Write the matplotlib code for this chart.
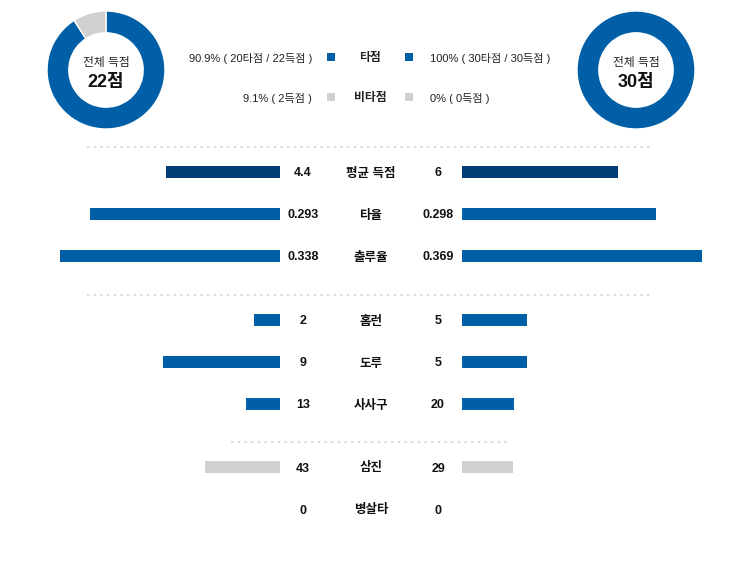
import numpy as np
import matplotlib.pyplot as plt

plt.rcParams['font.family'] = ['Liberation Sans', 'Noto Sans CJK KR']

# 도넛 (타점 / 비타점)
left_runs = [20, 2]
right_runs = [30, 0]
left_total = 22
right_total = 30
legend_left = ["90.9% ( 20타점 / 22득점 )", "9.1% ( 2득점 )"]
legend_right = ["100% ( 30타점 / 30득점 )", "0% ( 0득점 )"]
legend_names = ["타점", "비타점"]

# 비교 항목
categories = ["평균 득점", "타율", "출루율", "홈런", "도루", "사사구", "삼진", "병살타"]
left_vals = [4.4, 0.293, 0.338, 2, 9, 13, 43, 0]
right_vals = [6, 0.298, 0.369, 5, 5, 20, 29, 0]
left_labels = ["4.4", "0.293", "0.338", "2", "9", "13", "43", "0"]
right_labels = ["6", "0.298", "0.369", "5", "5", "20", "29", "0"]

BLUE = "#005fa6"
NAVY = "#003d73"
GRAY = "#d0d0d0"

# 행 위치 / 막대 스케일(px 단위) / 색
row_y = [172, 214, 256, 320, 362, 404, 467, 509]
row_scale = [26, 650, 650, 13, 13, 2.6, 1.75, 1.75]
row_color = [NAVY, BLUE, BLUE, BLUE, BLUE, BLUE, GRAY, GRAY]

W, H = 744, 562
fig = plt.figure(figsize=(W / 100, H / 100), dpi=100)
ax = fig.add_axes([0, 0, 1, 1])
ax.set_xlim(0, W)
ax.set_ylim(H, 0)
ax.axis("off")


def donut(cx, cy, r, vals, total):
    a = fig.add_axes([(cx - r) / W, (H - cy - r) / H, 2 * r / W, 2 * r / H])
    wedges, _ = a.pie(vals, colors=[BLUE, GRAY], startangle=90, counterclock=False,
                      radius=1, wedgeprops=dict(width=0.37, edgecolor="white", linewidth=1))
    for w, v in zip(wedges, vals):
        if v == 0:
            w.set_linewidth(0)
    a.set_xlim(-1, 1)
    a.set_ylim(-1, 1)
    a.axis("off")
    ax.text(cx, cy - 7, "전체 득점", ha="center", va="center", fontsize=8.5, color="#222222")
    ax.text(cx, cy + 12, f"{total}점", ha="center", va="center", fontsize=13,
            fontweight="bold", color="#111111")


donut(106, 70, 59, left_runs, left_total)
donut(636, 70, 59, right_runs, right_total)

# 범례
for i, ly in enumerate([57, 97]):
    col = BLUE if i == 0 else GRAY
    ax.text(312, ly + 1, legend_left[i], ha="right", va="center", fontsize=8, color="#222222")
    ax.text(370, ly + 1, legend_names[i], ha="center", va="center", fontsize=8.5,
            fontweight="bold", color="#222222")
    ax.text(430, ly + 1, legend_right[i], ha="left", va="center", fontsize=8, color="#222222")
    ax.barh([ly, ly], [8, 8], left=[327, 405], height=8, color=col)

# 점선 구분선
for y0, x0, x1 in [(147, 87, 653), (295, 87, 653), (442, 231, 510)]:
    ax.plot([x0, x1], [y0, y0], color="#dddddd", lw=1.5, ls=(0, (1.2, 2)))

# 막대
for i, cat in enumerate(categories):
    y = row_y[i]
    s = row_scale[i]
    if left_vals[i] > 0:
        ax.barh(y, -left_vals[i] * s, left=280, height=12, color=row_color[i])
    if right_vals[i] > 0:
        ax.barh(y, right_vals[i] * s, left=462, height=12, color=row_color[i])
    ax.text(303, y + 1.5, left_labels[i], ha="center", va="center", fontsize=9,
            fontweight="bold", color="#111111")
    ax.text(371, y + 1.5, cat, ha="center", va="center", fontsize=9,
            fontweight="bold", color="#111111")
    ax.text(438, y + 1.5, right_labels[i], ha="center", va="center", fontsize=9,
            fontweight="bold", color="#111111")

fig.savefig("out.png", dpi=100)
